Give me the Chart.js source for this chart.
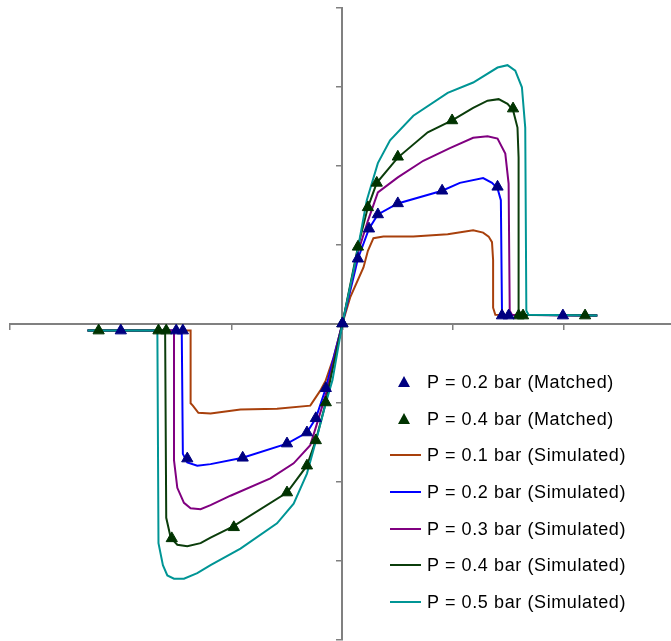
<!DOCTYPE html>
<html>
<head>
<meta charset="utf-8">
<script src="https://cdn.jsdelivr.net/npm/chart.js@4.4.1/dist/chart.umd.min.js"></script>
<style>
  html, body { margin: 0; padding: 0; background: #fff; overflow: hidden; }
  #wrap { position: relative; width: 671px; height: 641px; overflow: hidden; }
  #chartLoop { display: block; }
  #legend { position: absolute; left: 385px; top: 364px; font-family: "Liberation Sans", Arial, sans-serif; font-size: 18px; letter-spacing: 0.6px; color: #000; }
  .row { position: relative; height: 36.7px; line-height: 36px; padding-left: 42px; white-space: nowrap; }
  .sym-line { position: absolute; left: 5px; top: 17px; width: 31px; height: 2px; }
  .sym-tri { position: absolute; left: 13px; top: 12px; width: 0; height: 0;
             border-left: 6px solid transparent; border-right: 6px solid transparent; border-bottom: 11px solid; }
</style>
</head>
<body>
<div id="wrap">
  <canvas id="chartLoop" width="679" height="647"></canvas>
  <div id="legend"></div>
</div>
<script>
// ---- data (x, y), axis ticks every 1 unit ----
var matched02 = [[-2.00,-0.09],[-1.50,-0.09],[-1.44,-0.09],[-1.40,-1.71],[-0.90,-1.70],[-0.50,-1.52],[-0.32,-1.38],[-0.24,-1.20],[-0.15,-0.82],[0,0],
  [0.14,0.82],[0.24,1.20],[0.32,1.38],[0.50,1.52],[0.90,1.68],[1.40,1.73],[1.44,0.10],[1.50,0.10],[1.99,0.10]];
var matched04 = [[-2.20,-0.09],[-1.66,-0.09],[-1.59,-0.09],[-1.54,-2.72],[-0.98,-2.58],[-0.50,-2.14],[-0.32,-1.80],[-0.24,-1.48],[-0.15,-1.00],[0,0],
  [0.14,0.97],[0.23,1.47],[0.31,1.78],[0.50,2.11],[0.99,2.57],[1.54,2.72],[1.59,0.10],[1.63,0.10],[2.19,0.10]];

var sim01 = [[-2.30,-0.09],[-1.37,-0.09],[-1.37,-1.01],[-1.35,-1.04],[-1.30,-1.13],[-1.19,-1.14],[-0.92,-1.09],[-0.59,-1.08],[-0.29,-1.04],[-0.20,-0.85],[-0.15,-0.72],[-0.08,-0.43],[0,0],
  [0.07,0.33],[0.19,0.71],[0.23,0.92],[0.28,1.08],[0.37,1.10],[0.64,1.10],[0.95,1.13],[1.18,1.18],[1.27,1.15],[1.32,1.10],[1.35,1.03],[1.36,0.80],[1.36,0.20],[1.38,0.11],[2.30,0.10]];
var sim02 = [[-2.30,-0.09],[-1.45,-0.09],[-1.44,-1.65],[-1.40,-1.76],[-1.31,-1.80],[-1.19,-1.78],[-0.90,-1.70],[-0.50,-1.52],[-0.32,-1.38],[-0.24,-1.20],[-0.15,-0.82],[0,0],
  [0.14,0.82],[0.24,1.20],[0.32,1.38],[0.50,1.52],[0.90,1.68],[1.06,1.78],[1.27,1.84],[1.35,1.78],[1.40,1.71],[1.43,1.56],[1.44,0.16],[1.45,0.11],[2.30,0.10]];
var sim03 = [[-2.30,-0.09],[-1.52,-0.09],[-1.52,-1.73],[-1.49,-2.08],[-1.43,-2.27],[-1.37,-2.34],[-1.28,-2.35],[-1.19,-2.30],[-1.01,-2.18],[-0.65,-1.96],[-0.44,-1.77],[-0.29,-1.54],[-0.23,-1.27],[-0.14,-0.85],[0,0],
  [0.14,0.90],[0.23,1.30],[0.32,1.66],[0.50,1.85],[0.73,2.06],[0.97,2.22],[1.18,2.35],[1.31,2.37],[1.40,2.34],[1.47,2.15],[1.50,1.77],[1.51,0.16],[1.53,0.11],[2.30,0.10]];
var sim04 = [[-2.30,-0.09],[-1.60,-0.09],[-1.59,-2.46],[-1.55,-2.71],[-1.49,-2.80],[-1.40,-2.82],[-1.28,-2.78],[-1.19,-2.71],[-0.99,-2.57],[-0.50,-2.14],[-0.32,-1.80],[-0.24,-1.48],[-0.15,-1.00],[-0.11,-0.72],[0,0],
  [0.14,0.97],[0.23,1.47],[0.31,1.78],[0.50,2.10],[0.77,2.42],[0.99,2.57],[1.18,2.73],[1.31,2.82],[1.41,2.84],[1.49,2.78],[1.54,2.70],[1.58,2.48],[1.59,2.10],[1.59,0.16],[1.61,0.11],[2.30,0.10]];
var sim05 = [[-2.30,-0.09],[-1.67,-0.09],[-1.66,-2.78],[-1.62,-3.06],[-1.58,-3.19],[-1.52,-3.23],[-1.43,-3.23],[-1.31,-3.16],[-1.19,-3.06],[-0.92,-2.85],[-0.59,-2.53],[-0.44,-2.28],[-0.32,-1.90],[-0.23,-1.44],[-0.15,-1.01],[-0.09,-0.72],[0,0],
  [0.12,0.80],[0.22,1.56],[0.32,2.03],[0.43,2.32],[0.64,2.63],[0.95,2.92],[1.18,3.05],[1.40,3.24],[1.49,3.27],[1.56,3.20],[1.62,2.99],[1.65,2.48],[1.66,0.16],[1.68,0.11],[2.30,0.10]];

var seriesLabels = ['P = 0.2 bar (Matched)', 'P = 0.4 bar (Matched)',
  'P = 0.1 bar (Simulated)', 'P = 0.2 bar (Simulated)', 'P = 0.3 bar (Simulated)',
  'P = 0.4 bar (Simulated)', 'P = 0.5 bar (Simulated)'];
var seriesColors = ['#000080', '#003300', '#A8400C', '#0000FF', '#800080', '#0B3D0B', '#009595'];

function toXY(arr) {
  return arr.map(function (p) { return { x: p[0], y: p[1] }; });
}

var datasets = [];
[matched02, matched04].forEach(function (arr, i) {
  datasets.push({
    label: seriesLabels[i], data: toXY(arr), showLine: false, order: 0,
    pointStyle: 'triangle', pointRadius: 6.5, pointBackgroundColor: seriesColors[i],
    pointBorderColor: seriesColors[i], pointBorderWidth: 1
  });
});
[sim01, sim02, sim03, sim04, sim05].forEach(function (arr, i) {
  datasets.push({
    label: seriesLabels[i + 2], data: toXY(arr), showLine: true, order: 5 - i,
    borderColor: seriesColors[i + 2], borderWidth: 2, pointRadius: 0, tension: 0
  });
});

var axisGray = '#808080';
function axisOpts(min, max, pos) {
  return {
    type: 'linear', min: min, max: max, position: pos,
    ticks: { display: false, stepSize: 1, includeBounds: false },
    grid: { drawOnChartArea: false, drawTicks: true, tickLength: 5, color: axisGray, lineWidth: 1.5 },
    border: { display: true, color: axisGray, width: 2 }
  };
}

new Chart(document.getElementById('chartLoop'), {
  type: 'scatter',
  data: { datasets: datasets },
  options: {
    responsive: false,
    animation: false,
    layout: { padding: { left: 10, right: 0, top: 7, bottom: 2 } },
    plugins: { legend: { display: false }, tooltip: { enabled: false } },
    scales: {
      x: axisOpts(-3, 2.97, { y: 0 }),
      y: axisOpts(-4, 4, { x: 0 })
    }
  }
});

// legend (HTML so the text stays text)
var legend = document.getElementById('legend');
seriesLabels.forEach(function (lbl, i) {
  var row = document.createElement('div');
  row.className = 'row';
  var sym = document.createElement('span');
  if (i < 2) {
    sym.className = 'sym-tri';
    sym.style.borderBottomColor = seriesColors[i];
  } else {
    sym.className = 'sym-line';
    sym.style.background = seriesColors[i];
  }
  row.appendChild(sym);
  row.appendChild(document.createTextNode(lbl));
  legend.appendChild(row);
});
</script>
</body>
</html>
